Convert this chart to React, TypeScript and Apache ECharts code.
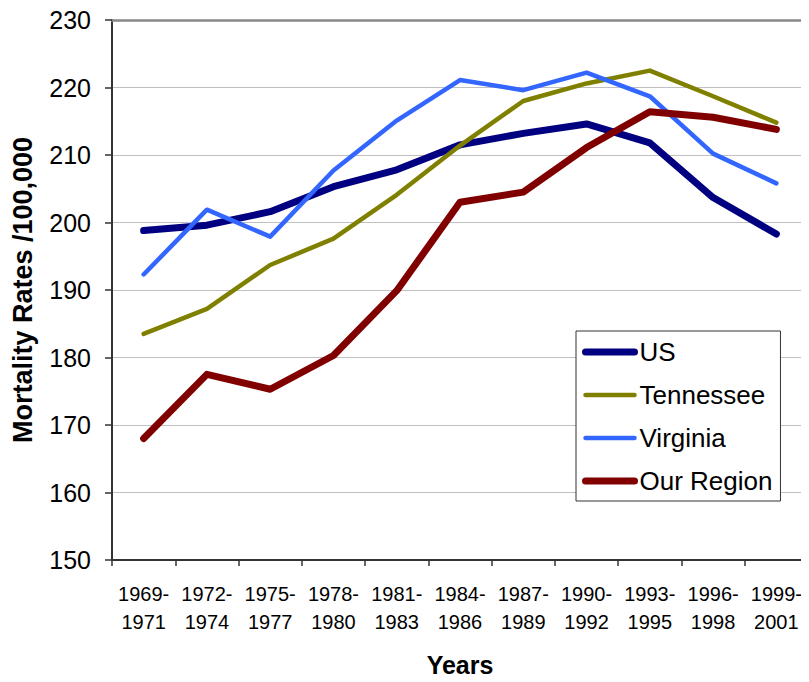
import React, { useEffect, useRef } from "react";
import * as echarts from "echarts";

const categories = [
  "1969-\n1971", "1972-\n1974", "1975-\n1977", "1978-\n1980", "1981-\n1983", "1984-\n1986",
  "1987-\n1989", "1990-\n1992", "1993-\n1995", "1996-\n1998", "1999-\n2001",
];
const usValues = [198.8, 199.6, 201.6, 205.3, 207.8, 211.5, 213.2, 214.6, 211.8, 203.7, 198.3];
const tennesseeValues = [183.5, 187.2, 193.7, 197.6, 204.1, 211.4, 218.0, 220.6, 222.5, 218.7, 214.8];
const virginiaValues = [192.3, 201.9, 197.9, 207.7, 215.1, 221.1, 219.6, 222.2, 218.7, 210.2, 205.8];
const regionValues = [168.0, 177.5, 175.3, 180.3, 189.9, 203.0, 204.5, 211.1, 216.4, 215.6, 213.8];

const FONT = "'Liberation Sans', Arial, Helvetica, sans-serif";

export default function App() {
  const ref = useRef<HTMLDivElement>(null);
  useEffect(() => {
    if (!ref.current) return;
    const chart = echarts.init(ref.current, null, { renderer: "svg" });
    const mk = (name: string, data: number[], color: string, width: number) => ({
      name,
      type: "line",
      data,
      symbol: "none",
      showSymbol: false,
      xAxisIndex: 0,
      lineStyle: { color, width, cap: "round", join: "round" },
      itemStyle: { color },
    });
    chart.setOption({
      animation: false,
      textStyle: { fontFamily: FONT },
      grid: { left: 112, top: 20, right: 1, bottom: 121, containLabel: false },
      legend: {
        orient: "vertical",
        left: 576,
        top: 331,
        padding: [6, 8, 5, 6],
        itemWidth: 49,
        itemHeight: 14,
        itemGap: 13,
        backgroundColor: "#fff",
        borderColor: "#333",
        borderWidth: 1,
        itemStyle: { opacity: 0 },
        lineStyle: { width: "inherit", cap: "round" },
        textStyle: { fontSize: 26, fontFamily: FONT, color: "#000", lineHeight: 30 },
        data: ["US", "Tennessee", "Virginia", "Our Region"],
      },
      xAxis: [
        {
          type: "category",
          data: categories,
          boundaryGap: true,
          name: "Years",
          nameLocation: "middle",
          nameGap: 92,
          nameTextStyle: { fontSize: 25, fontWeight: "bold", color: "#000", fontFamily: FONT },
          axisLine: { lineStyle: { color: "#333", width: 2 } },
          axisTick: { show: true, length: 6, lineStyle: { color: "#333", width: 1.5 } },
          axisLabel: {
            fontSize: 20,
            lineHeight: 28,
            color: "#000",
            margin: 20,
            interval: 0,
            fontFamily: FONT,
          },
        },
        {
          type: "category",
          data: categories,
          position: "top",
          axisLine: { show: true, lineStyle: { color: "#888", width: 2.5 } },
          axisTick: { show: false },
          axisLabel: { show: false },
          splitLine: { show: false },
        },
      ],
      yAxis: {
        type: "value",
        min: 150,
        max: 230,
        interval: 10,
        name: "Mortality Rates /100,000",
        nameLocation: "middle",
        nameGap: 76,
        nameTextStyle: { fontSize: 27, fontWeight: "bold", color: "#000", fontFamily: FONT },
        axisLine: { show: true, lineStyle: { color: "#333", width: 2 } },
        axisTick: { show: true, length: 7, lineStyle: { color: "#333", width: 1.5 } },
        axisLabel: { fontSize: 25, color: "#000", margin: 21, fontFamily: FONT },
        splitLine: { show: true, lineStyle: { color: "#c0c0c0", width: 1 } },
      },
      series: [
        mk("US", usValues, "#000080", 7),
        mk("Tennessee", tennesseeValues, "#808000", 4.5),
        mk("Virginia", virginiaValues, "#3366FF", 4.5),
        mk("Our Region", regionValues, "#800000", 7),
      ],
    });
    return () => chart.dispose();
  }, []);
  return <div ref={ref} style={{ width: 809, height: 682, margin: -8 }} />;
}
